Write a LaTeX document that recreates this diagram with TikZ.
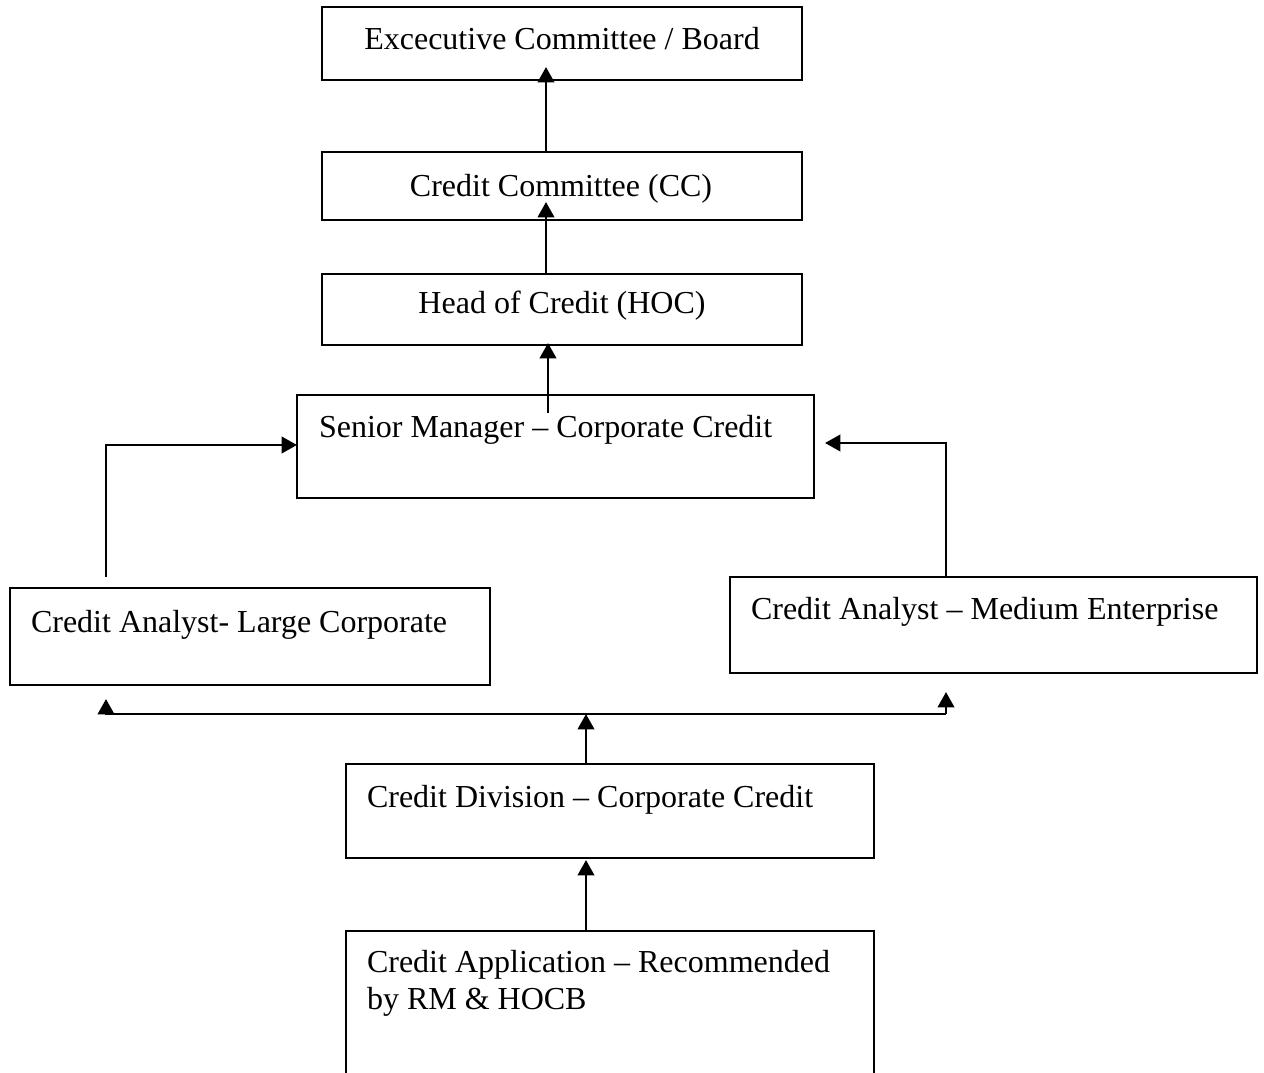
\documentclass[tikz,border=0pt]{standalone}
\usepackage{fontspec}
\setmainfont{Liberation Serif}
\usetikzlibrary{arrows.meta,calc}
\newcommand{\pxu}{0.375pt}
\tikzset{
  box/.style={draw, line width=1pt, rectangle, inner sep=0pt, outer sep=0pt},
  lbl/.style={inner sep=0pt, outer sep=0pt, font=\fontsize{12pt}{13.8pt}\selectfont, align=left},
  wire/.style={line width=1pt},
  arr/.style={wire, -{Triangle[width=6.2pt,length=5.8pt]}}
}
\begin{document}
\begin{tikzpicture}[x=\pxu, y=-\pxu]
\useasboundingbox (0,0) rectangle (1264,1072);
\clip (0,0) rectangle (1264,1072);

% boxes of the approval chain
\node[box, minimum width=480*\pxu, minimum height=73*\pxu]  (exec) at (562,43.5)  {};
\node[box, minimum width=480*\pxu, minimum height=68*\pxu]  (cc)   at (562,186)   {};
\node[box, minimum width=480*\pxu, minimum height=71*\pxu]  (hoc)  at (562,309.5) {};
\node[box, minimum width=517*\pxu, minimum height=103*\pxu] (sm)   at (555.5,446.5) {};
\node[box, minimum width=480*\pxu, minimum height=97*\pxu]  (lc)   at (250,636.5) {};
\node[box, minimum width=527*\pxu, minimum height=96*\pxu]  (me)   at (993.5,625) {};
\node[box, minimum width=528*\pxu, minimum height=94*\pxu]  (div)  at (610,811)   {};
\node[box, minimum width=528*\pxu, minimum height=158*\pxu] (app)  at (610,1010)  {};

% box texts
\node[lbl, anchor=base] (texec) at ($(exec.north)+(0,42)$) {Excecutive Committee / Board};
\node[lbl, anchor=base] (tcc)   at ($(cc.north)+(-1,44)$)  {Credit Committee (CC)};
\node[lbl, anchor=base] (thoc)  at ($(hoc.north)+(0,39)$)  {Head of Credit (HOC)};
\node[lbl, anchor=base west] (tsm)  at ($(sm.north west)+(22,42)$)  {Senior Manager – Corporate Credit};
\node[lbl, anchor=base west] (tlc)  at ($(lc.north west)+(21,44)$)  {Credit Analyst- Large Corporate};
\node[lbl, anchor=base west] (tme)  at ($(me.north west)+(21,42)$)  {Credit Analyst – Medium Enterprise};
\node[lbl, anchor=base west] (tdiv) at ($(div.north west)+(21,43)$) {Credit Division – Corporate Credit};
% the base of a two-line node is its last line
\node[lbl, anchor=base west] (tapp) at ($(app.north west)+(21,78)$) {Credit Application – Recommended\\by RM \& HOCB};

% guide positions for the connectors
\coordinate (xa) at (546,0);
\coordinate (xb) at (548,0);
\coordinate (busL) at (106,714);
\coordinate (busM) at (586,714);
\coordinate (busR) at (946,714);
\coordinate (cL) at (106,445);
\coordinate (cR) at (946,443);

% vertical chain
\draw[arr] (cc.north -| xa) -- ($(exec.south -| xa)+(0,-13)$);
\draw[arr] (hoc.north -| xa) -- ($(cc.south -| xa)+(0,-18)$);
\draw[arr] ($(sm.north -| xb)+(0,18)$) -- ($(hoc.south -| xb)+(0,-2)$);

% analysts into the senior manager
\draw[arr] ($(lc.north -| cL)+(0,-11)$) -- (cL) -- (sm.west |- cL);
\draw[arr] (me.north -| cR) -- (cR) -- ($(sm.east |- cR)+(11,0)$);

% distribution bus from the credit division
\draw[wire] (busL) -- (busR);
\draw[arr] (busL) -- ($(lc.south -| busL)+(0,14)$);
\draw[arr] (busR) -- ($(me.south -| busR)+(0,19)$);
\draw[arr] (div.north -| busM) -- (busM);

% application into the division
\draw[arr] (app.north -| busM) -- ($(div.south -| busM)+(0,2)$);
\end{tikzpicture}
\end{document}
